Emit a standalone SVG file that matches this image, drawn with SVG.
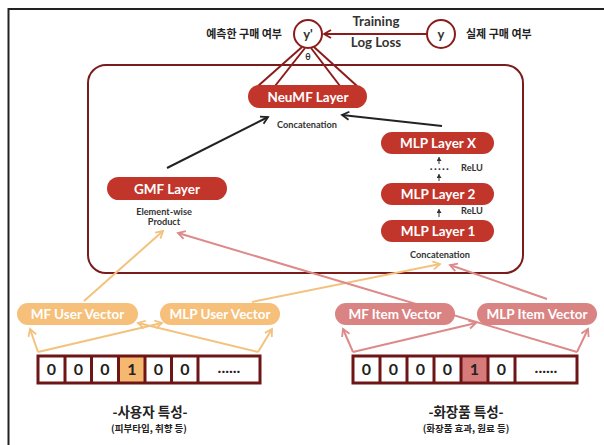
<svg xmlns="http://www.w3.org/2000/svg" width="604" height="445" viewBox="0 0 604 445">
  <style>
    .en { font-family: "Lato", "Noto Sans", sans-serif; font-weight: 700; }
    .ko { font-family: "Noto Sans CJK KR", "Noto Sans", sans-serif; font-weight: 700; fill: #222; }
    .pill-red { fill: #c2352b; }
    .pill-org { fill: #f6bf7a; }
    .pill-pnk { fill: #d98383; }
    .lbl { fill: #fff; font-size: 13.5px; text-anchor: middle; }
    .small { fill: #333; font-size: 9.2px; text-anchor: middle; }
    .digit { font-family: "Lato", "Noto Sans", sans-serif; font-weight: 700; font-size: 16px; fill: #222; text-anchor: middle; }
    .cellbox { fill: none; stroke: #6e1616; stroke-width: 3; }
    .blk { stroke: #222; stroke-width: 2; fill: none; marker-end: url(#ah-blk); }
    .mar { stroke: #8b1c1c; stroke-width: 2; fill: none; }
    .org { stroke: #f3c27e; stroke-width: 2; fill: none; marker-end: url(#ah-org); }
    .pnk { stroke: #dc8a8a; stroke-width: 2; fill: none; marker-end: url(#ah-pnk); }
    .tiny { stroke: #333; stroke-width: 1; fill: none; marker-end: url(#ah-tiny); }
  </style>
  <defs>
    <marker id="ah-blk" markerUnits="userSpaceOnUse" markerWidth="12" markerHeight="12" refX="8" refY="5" orient="auto">
      <path d="M1,1 L8,5 L1,9" fill="none" stroke="#222" stroke-width="1.8"/>
    </marker>
    <marker id="ah-mar" markerUnits="userSpaceOnUse" markerWidth="12" markerHeight="12" refX="8" refY="5" orient="auto">
      <path d="M1,1 L8,5 L1,9" fill="none" stroke="#8b1c1c" stroke-width="1.8"/>
    </marker>
    <marker id="ah-org" markerUnits="userSpaceOnUse" markerWidth="12" markerHeight="12" refX="8" refY="5" orient="auto">
      <path d="M1,1 L8,5 L1,9" fill="none" stroke="#f3c27e" stroke-width="1.8"/>
    </marker>
    <marker id="ah-pnk" markerUnits="userSpaceOnUse" markerWidth="12" markerHeight="12" refX="8" refY="5" orient="auto">
      <path d="M1,1 L8,5 L1,9" fill="none" stroke="#dc8a8a" stroke-width="1.8"/>
    </marker>
    <marker id="ah-tiny" markerUnits="userSpaceOnUse" markerWidth="6" markerHeight="6" refX="4" refY="2.5" orient="auto">
      <path d="M0,0 L4,2.5 L0,5 Z" fill="#333"/>
    </marker>
  </defs>

  <!-- page -->
  <rect x="0" y="0" width="604" height="445" fill="#fff"/>
  <path d="M8.5,445 V9 H604" fill="none" stroke="#222" stroke-width="2"/>

  <!-- model frame -->
  <rect id="model-frame" x="88" y="65" width="435" height="208" rx="18" fill="none" stroke="#7b1c1c" stroke-width="2"/>

  <!-- connectors -->
  <g id="connectors">
    <!-- loss -->
    <line x1="427" y1="34" x2="324" y2="34" class="mar" marker-end="url(#ah-mar)"/>
    <!-- output fan -->
    <line x1="302" y1="47" x2="258" y2="86" class="mar"/>
    <line x1="305" y1="48" x2="275" y2="86" class="mar"/>
    <line x1="311" y1="48" x2="340" y2="86" class="mar"/>
    <line x1="314" y1="47" x2="357" y2="86" class="mar"/>
    <!-- into NeuMF -->
    <line x1="167" y1="168" x2="268" y2="117" class="blk"/>
    <line x1="442" y1="126" x2="342" y2="115" class="blk"/>
    <!-- MLP stack -->
    <line x1="439" y1="164" x2="439" y2="157" class="tiny"/>
    <line x1="439" y1="181" x2="439" y2="174" class="tiny"/>
    <line x1="439" y1="217" x2="439" y2="209" class="tiny"/>
    <!-- user side -->
    <line x1="38" y1="352" x2="30" y2="329" class="org"/>
    <line x1="38" y1="352" x2="162" y2="323" class="org"/>
    <line x1="258" y1="352" x2="272" y2="329" class="org"/>
    <line x1="258" y1="352" x2="138" y2="323" class="org"/>
    <line x1="84" y1="301" x2="163" y2="231" class="org"/>
    <line x1="252" y1="302" x2="440" y2="264" class="org"/>
    <!-- item side -->
    <line x1="353" y1="352" x2="343" y2="329" class="pnk"/>
    <line x1="353" y1="352" x2="476" y2="323" class="pnk"/>
    <line x1="577" y1="352" x2="588" y2="329" class="pnk"/>
    <line x1="577" y1="352" x2="178" y2="233" class="pnk"/>
    <line x1="547" y1="299" x2="450" y2="265" class="pnk"/>
  </g>

  <!-- outputs -->
  <g id="y-pred">
    <circle cx="308" cy="34" r="14" fill="#fff" stroke="#8b1c1c" stroke-width="2"/>
    <text x="308" y="39" class="en" font-size="13" fill="#333" text-anchor="middle">y'</text>
    <text x="282" y="38" class="ko" font-size="11" text-anchor="end">예측한 구매 여부</text>
    <text x="308" y="60" class="en" font-size="9" fill="#333" text-anchor="middle">θ</text>
  </g>
  <g id="y-true">
    <circle cx="441" cy="34" r="14" fill="#fff" stroke="#8b1c1c" stroke-width="2"/>
    <text x="441" y="39" class="en" font-size="13" fill="#333" text-anchor="middle">y</text>
    <text x="466" y="38" class="ko" font-size="11">실제 구매 여부</text>
  </g>
  <g id="loss-label">
    <text x="376" y="26" class="en" font-size="13.3" fill="#333" text-anchor="middle">Training</text>
    <text x="376" y="47" class="en" font-size="13.3" fill="#333" text-anchor="middle">Log Loss</text>
  </g>

  <!-- model layers -->
  <g id="neumf">
    <rect x="248" y="85" width="119" height="23" rx="11.5" class="pill-red"/>
    <text x="308" y="101.5" class="en lbl">NeuMF Layer</text>
    <text x="307" y="128" class="en small">Concatenation</text>
  </g>
  <g id="gmf">
    <rect x="107" y="177" width="120" height="23" rx="11.5" class="pill-red"/>
    <text x="167" y="193.5" class="en lbl">GMF Layer</text>
    <text x="164" y="215" class="en small" font-size="9.4">Element-wise</text>
    <text x="164" y="225" class="en small" font-size="9.4">Product</text>
  </g>
  <g id="mlp-x">
    <rect x="381" y="132" width="113" height="22" rx="11" class="pill-red"/>
    <text x="438" y="148" class="en lbl">MLP Layer X</text>
    <text x="440" y="170" class="en" font-size="12" fill="#333" text-anchor="middle" letter-spacing="1.2">.....</text>
    <text x="472" y="171" class="en small" font-size="9">ReLU</text>
  </g>
  <g id="mlp-2">
    <rect x="381" y="183" width="113" height="22" rx="11" class="pill-red"/>
    <text x="438" y="199" class="en lbl">MLP Layer 2</text>
    <text x="472" y="213.5" class="en small" font-size="9">ReLU</text>
  </g>
  <g id="mlp-1">
    <rect x="381" y="220" width="113" height="22" rx="11" class="pill-red"/>
    <text x="438" y="236" class="en lbl">MLP Layer 1</text>
    <text x="440" y="258" class="en small">Concatenation</text>
  </g>

  <!-- embedding vectors -->
  <g id="mf-user">
    <rect x="17" y="303" width="121" height="22" rx="11" class="pill-org"/>
    <text x="77.5" y="319" class="en lbl" font-size="13">MF User Vector</text>
  </g>
  <g id="mlp-user">
    <rect x="160" y="303" width="120" height="22" rx="11" class="pill-org"/>
    <text x="220" y="319" class="en lbl" font-size="13">MLP User Vector</text>
  </g>
  <g id="mf-item">
    <rect x="335" y="303" width="120" height="22" rx="11" class="pill-pnk"/>
    <text x="395" y="319" class="en lbl" font-size="13">MF Item Vector</text>
  </g>
  <g id="mlp-item">
    <rect x="477" y="303" width="120" height="22" rx="11" class="pill-pnk"/>
    <text x="537" y="319" class="en lbl" font-size="13">MLP Item Vector</text>
  </g>

  <!-- one-hot inputs -->
  <g id="user-input">
    <rect x="118.5" y="356" width="26.5" height="27" fill="#f5b870"/>
    <rect x="38" y="356" width="222" height="27" class="cellbox"/>
    <path d="M65,356 V383 M91.5,356 V383 M118.5,356 V383 M145,356 V383 M171.5,356 V383 M198,356 V383" class="cellbox"/>
    <text x="51.5" y="375" class="digit">0</text>
    <text x="78.3" y="375" class="digit">0</text>
    <text x="105" y="375" class="digit">0</text>
    <text x="131.8" y="375" class="digit">1</text>
    <text x="158.3" y="375" class="digit">0</text>
    <text x="184.8" y="375" class="digit">0</text>
    <text x="229" y="373" class="digit" font-size="13">......</text>
    <text x="150" y="417" class="ko" font-size="13.5" text-anchor="middle">-사용자 특성-</text>
    <text x="149" y="431.5" class="ko" font-size="9.5" text-anchor="middle">(피부타입, 취향 등)</text>
  </g>
  <g id="item-input">
    <rect x="461" y="356" width="27" height="27" fill="#d67a7a"/>
    <rect x="353" y="356" width="224" height="27" class="cellbox"/>
    <path d="M380,356 V383 M407,356 V383 M434,356 V383 M461,356 V383 M488,356 V383 M515,356 V383" class="cellbox"/>
    <text x="366.5" y="375" class="digit">0</text>
    <text x="393.5" y="375" class="digit">0</text>
    <text x="420.5" y="375" class="digit">0</text>
    <text x="447.5" y="375" class="digit">0</text>
    <text x="474.5" y="375" class="digit">1</text>
    <text x="501.5" y="375" class="digit">0</text>
    <text x="546" y="373" class="digit" font-size="13">......</text>
    <text x="466" y="417" class="ko" font-size="13.5" text-anchor="middle">-화장품 특성-</text>
    <text x="466" y="431.5" class="ko" font-size="9.5" text-anchor="middle">(화장품 효과, 원료 등)</text>
  </g>
</svg>
